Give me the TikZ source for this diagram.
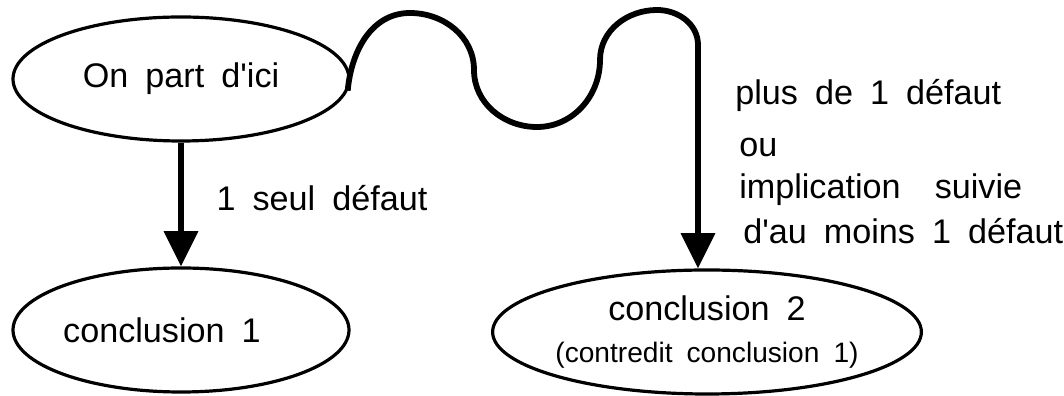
\documentclass[tikz,border=0pt]{standalone}
\usepackage{fontspec}
\setmainfont{Liberation Sans}[WordSpace=1.8, Ligatures=TeXOff]
\usetikzlibrary{shapes.geometric,arrows.meta,positioning}

\begin{document}
\begin{tikzpicture}[x=0.25mm, y=0.25mm,
    font=\fontsize{24.3}{30}\selectfont,
    bulle/.style={ellipse, draw, line width=0.8mm, minimum width=84mm, minimum height=31mm, inner sep=0pt},
    fleche/.style={-{Triangle[length=8.8mm, width=8.3mm]}, line width=1.45mm}]

    \useasboundingbox (0,0) rectangle (1064,396);

    \node[bulle] (depart) at (181,317) {On part d'ici};
    \node[bulle] (concl1) at (181,66) {conclusion 1\hspace*{9.5mm}};
    \node[bulle, minimum width=85mm, align=center] (concl2) at (707,64) {conclusion 2\\[0pt] {\fontsize{20}{24}\selectfont (contredit conclusion 1)}};

    \coordinate (bosse1) at (410,383);
    \coordinate (descente) at (474,326);
    \coordinate (creux) at (537,269);
    \coordinate (montee) at (600,336);
    \coordinate (bosse2) at (657,386);
    \coordinate (virage) at (698,351);

    \draw [fleche] (depart) to node[pos=.45, right=7mm] {1 seul défaut} (concl1);
    \draw [fleche] (depart.-4) to[out=85, in=180] (bosse1) to[out=0, in=90] (descente)
        to[out=-90, in=180] (creux) to[out=0, in=-90] (montee) to[out=90, in=180] (bosse2)
        to[out=0, in=90] (virage) -- (virage |- concl2.north);

    \node[anchor=north west, align=left, inner sep=0pt] (raisons) at (735,317)
        {plus de 1 défaut\\[7pt] \hspace*{1mm}ou\\ \hspace*{1mm}implication\ \ suivie\\[2pt] \hspace*{2mm}d'au moins 1 défaut};

\end{tikzpicture}
\end{document}
